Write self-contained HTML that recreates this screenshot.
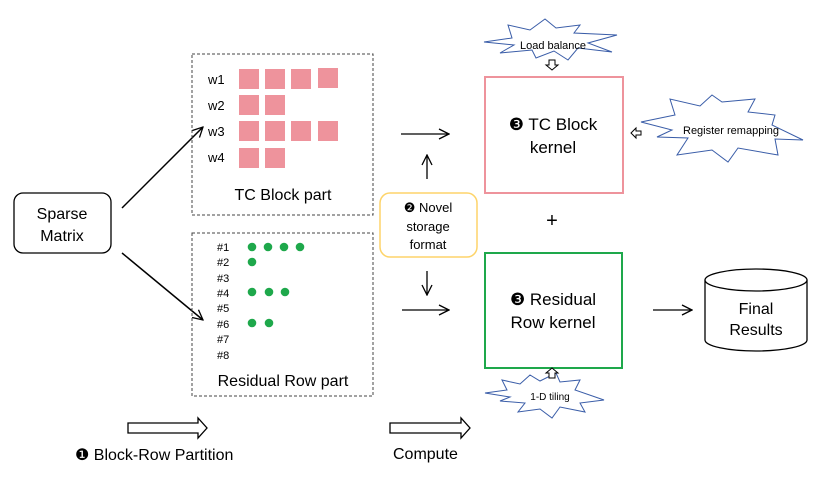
<!DOCTYPE html>
<html><head><style>body{margin:0;background:#fff}svg{display:block}text{font-family:"Liberation Sans",sans-serif;fill:#000}</style></head><body>
<svg width="840" height="484" viewBox="0 0 840 484" xmlns="http://www.w3.org/2000/svg">
<defs><marker id="a" markerWidth="12" markerHeight="12" refX="11" refY="6" orient="auto" markerUnits="userSpaceOnUse"><path d="M1,1 L11,6 L1,11" fill="none" stroke="#000" stroke-width="1.3"/></marker></defs>
<rect x="14" y="193" width="97" height="60" rx="9" fill="#fff" stroke="#000" stroke-width="1.3"/>
<text x="62" y="219" font-size="16" text-anchor="middle">Sparse</text>
<text x="62" y="241" font-size="16" text-anchor="middle">Matrix</text>
<line x1="122" y1="208" x2="203" y2="127" stroke="#000" stroke-width="1.5" marker-end="url(#a)"/>
<line x1="122" y1="253" x2="203" y2="320" stroke="#000" stroke-width="1.5" marker-end="url(#a)"/>
<rect x="192" y="54" width="181" height="161" fill="none" stroke="#444" stroke-dasharray="3,2"/>
<rect x="192" y="233" width="181" height="163" fill="none" stroke="#444" stroke-dasharray="3,2"/>
<g font-size="13"><text x="208" y="84">w1</text><text x="208" y="110">w2</text><text x="208" y="136">w3</text><text x="208" y="162">w4</text></g>
<g fill="#ee939c"><rect x="239" y="69" width="20" height="20"/><rect x="265" y="69" width="20" height="20"/><rect x="291" y="69" width="20" height="20"/><rect x="318" y="68" width="20" height="20"/>
<rect x="239" y="95" width="20" height="20"/><rect x="265" y="95" width="20" height="20"/>
<rect x="239" y="121" width="20" height="20"/><rect x="265" y="121" width="20" height="20"/><rect x="291" y="121" width="20" height="20"/><rect x="318" y="121" width="20" height="20"/>
<rect x="239" y="148" width="20" height="20"/><rect x="265" y="148" width="20" height="20"/></g>
<text x="283" y="200" font-size="16" text-anchor="middle">TC Block part</text>
<g font-size="11"><text x="217" y="251">#1</text><text x="217" y="266">#2</text><text x="217" y="282">#3</text><text x="217" y="297">#4</text><text x="217" y="312">#5</text><text x="217" y="328">#6</text><text x="217" y="343">#7</text><text x="217" y="359">#8</text></g>
<g fill="#1ea84b"><circle cx="252" cy="247" r="4.3"/><circle cx="268" cy="247" r="4.3"/><circle cx="284" cy="247" r="4.3"/><circle cx="300" cy="247" r="4.3"/>
<circle cx="252" cy="262" r="4.3"/><circle cx="252" cy="292" r="4.3"/><circle cx="269" cy="292" r="4.3"/><circle cx="285" cy="292" r="4.3"/>
<circle cx="252" cy="323" r="4.3"/><circle cx="269" cy="323" r="4.3"/></g>
<text x="283" y="386" font-size="16" text-anchor="middle">Residual Row part</text>
<rect x="380" y="193" width="97" height="64" rx="10" fill="#fff" stroke="#fdd46a" stroke-width="1.5"/>
<text x="428" y="212" font-size="13" text-anchor="middle">❷ Novel</text>
<text x="428" y="231" font-size="13" text-anchor="middle">storage</text>
<text x="428" y="249" font-size="13" text-anchor="middle">format</text>
<line x1="401" y1="134" x2="449" y2="134" stroke="#000" stroke-width="1.3" marker-end="url(#a)"/>
<line x1="402" y1="310" x2="449" y2="310" stroke="#000" stroke-width="1.3" marker-end="url(#a)"/>
<line x1="427" y1="179" x2="427" y2="155" stroke="#000" stroke-width="1.3" marker-end="url(#a)"/>
<line x1="427" y1="271" x2="427" y2="295" stroke="#000" stroke-width="1.3" marker-end="url(#a)"/>
<rect x="485" y="77" width="138" height="116" fill="#fff" stroke="#ee939c" stroke-width="2"/>
<text x="553" y="130" font-size="17" text-anchor="middle">❸ TC Block</text>
<text x="553" y="153" font-size="17" text-anchor="middle">kernel</text>
<text x="552" y="227" font-size="20" text-anchor="middle">+</text>
<rect x="485" y="253" width="137" height="115" fill="#fff" stroke="#1ea84b" stroke-width="2"/>
<text x="553" y="305" font-size="17" text-anchor="middle">❸ Residual</text>
<text x="553" y="328" font-size="17" text-anchor="middle">Row kernel</text>
<line x1="653" y1="310" x2="692" y2="310" stroke="#000" stroke-width="1.3" marker-end="url(#a)"/>
<path d="M705,280 L705,340 A51,11 0 0 0 807,340 L807,280" fill="#fff" stroke="#000" stroke-width="1.3"/>
<ellipse cx="756" cy="280" rx="51" ry="11" fill="#fff" stroke="#000" stroke-width="1.3"/>
<text x="756" y="314" font-size="16" text-anchor="middle">Final</text>
<text x="756" y="335" font-size="16" text-anchor="middle">Results</text>
<g fill="#fff" stroke="#3a5da8" stroke-width="1">
<path d="M484,42 L512,38 L508,25 L530,30 L545,19 L556,28 L580,25 L574,33 L617,35 L588,43 L612,52 L578,48 L568,60 L554,51 L536,58 L532,50 L500,53 L514,45 Z"/>
<path d="M641,122 L675,115 L670,99 L700,106 L712,95 L722,102 L755,99 L748,112 L775,115 L772,125 L803,140 L775,139 L778,155 L738,148 L728,162 L712,150 L677,155 L688,138 L657,137 L672,130 Z"/>
<path d="M485,393 L507,390 L502,380 L520,384 L530,375 L540,381 L556,373 L560,382 L580,380 L575,390 L604,400 L580,403 L585,412 L560,407 L552,418 L540,409 L518,412 L525,403 L500,401 L510,397 Z"/>
</g>
<text x="553" y="49" font-size="11" text-anchor="middle">Load balance</text>
<text x="731" y="134" font-size="11" text-anchor="middle">Register remapping</text>
<text x="550" y="400" font-size="10" text-anchor="middle">1-D tiling</text>
<g fill="#fff" stroke="#000" stroke-width="1">
<path d="M549,60 L555,60 L555,65 L558,65 L552,70 L546,65 L549,65 Z"/>
<path d="M636,131 L636,128 L631,133 L636,138 L636,135 L641,135 L641,131 Z"/>
<path d="M549,378 L555,378 L555,373 L558,373 L552,368 L546,373 L549,373 Z"/>
<path d="M128,423 L198,423 L198,418 L207,428 L198,438 L198,433 L128,433 Z" stroke-width="1.3"/>
<path d="M390,423 L461,423 L461,418 L470,428 L461,438 L461,433 L390,433 Z" stroke-width="1.3"/>
</g>
<text x="75" y="460" font-size="16">❶ Block-Row Partition</text>
<text x="393" y="459" font-size="16">Compute</text>
</svg>
</body></html>
